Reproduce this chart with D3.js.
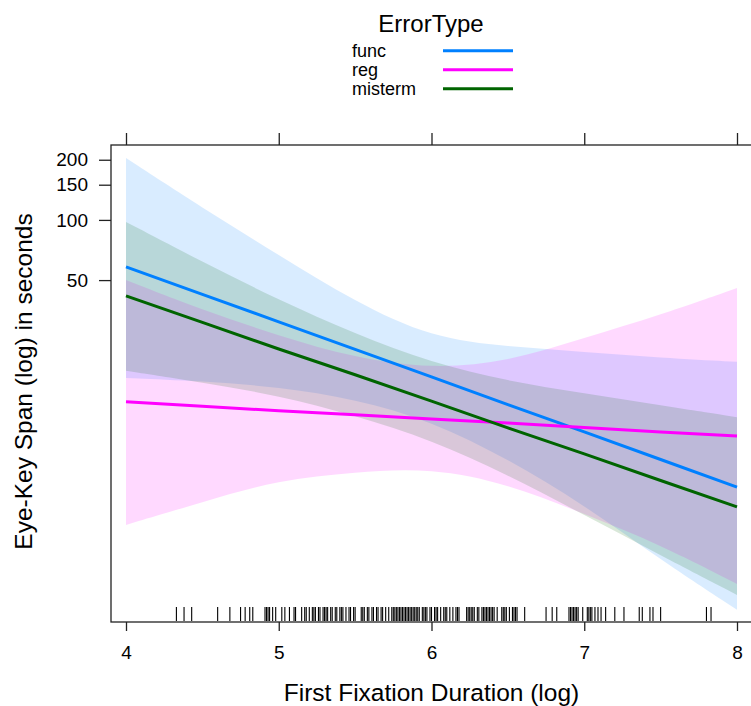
<!DOCTYPE html>
<html>
<head>
<meta charset="utf-8">
<script src="https://cdn.jsdelivr.net/npm/d3@7"></script>
<style>
  body { margin: 0; background: #fff; }
  svg text { font-family: "Liberation Sans", Arial, Helvetica, sans-serif; fill: #000; }
</style>
</head>
<body>
<div id="chart"></div>
<script>
// effect estimates (seconds) at each first-fixation value
const xGrid = [4, 4.5, 5, 5.5, 6, 6.5, 7, 7.5, 8];
const xTicks = [4, 5, 6, 7, 8];
const yTicks = [50, 100, 150, 200];

const funcFit = [58.2, 42.4, 30.9, 22.5, 16.4, 11.9, 8.70, 6.33, 4.61];
const funcLower = [16.2, 15.6, 14.6, 12.7, 9.87, 6.37, 3.75, 1.99, 1.12];
const funcUpper = [204, 114.8, 66.8, 38.9, 25.7, 23.2, 21.9, 20.4, 19.5];

const regFit = [12.3, 11.7, 11.1, 10.6, 10.1, 9.64, 9.16, 8.69, 8.30];
const regLower = [2.98, 3.88, 5.00, 5.48, 5.74, 4.78, 3.38, 2.37, 1.51];
const regUpper = [50.1, 35.5, 26.3, 20.4, 18.0, 19.5, 25.7, 33.5, 45.7];

const mistermFit = [41.7, 30.7, 22.6, 16.8, 12.4, 9.11, 6.75, 4.97, 3.67];
const mistermLower = [17.6, 15.4, 13.2, 10.5, 7.93, 5.30, 3.34, 2.10, 1.33];
const mistermUpper = [97.7, 61.6, 39.8, 26.9, 19.3, 15.6, 13.6, 11.8, 10.3];

const errorTypes = ["func", "reg", "misterm"];
const colors = ["#0080ff", "#ff00ff", "#006400"];

// rug of observed first fixation durations (log)
const rug = [4.33, 4.38, 4.43, 4.60, 4.68, 4.75, 4.78, 4.81, 4.83, 4.91, 4.92, 4.93, 4.94,
  4.96, 4.98, 5.02, 5.04, 5.07, 5.10, 5.11, 5.15, 5.17, 5.18, 5.20, 5.22, 5.23, 5.24, 5.26,
  5.27, 5.29, 5.30, 5.31, 5.32, 5.34, 5.35, 5.37, 5.38, 5.40, 5.41, 5.42, 5.44, 5.46, 5.47,
  5.49, 5.50, 5.54, 5.55, 5.56, 5.58, 5.59, 5.61, 5.62, 5.64, 5.65, 5.67, 5.68, 5.70, 5.72,
  5.74, 5.75, 5.76, 5.77, 5.78, 5.79, 5.80, 5.81, 5.82, 5.83, 5.84, 5.85, 5.86, 5.87, 5.88,
  5.89, 5.90, 5.91, 5.92, 5.94, 5.95, 5.96, 5.97, 5.99, 6.00, 6.02, 6.03, 6.04, 6.06, 6.08,
  6.09, 6.10, 6.12, 6.14, 6.16, 6.17, 6.18, 6.23, 6.24, 6.25, 6.26, 6.27, 6.28, 6.30, 6.31,
  6.33, 6.34, 6.35, 6.36, 6.37, 6.38, 6.39, 6.40, 6.41, 6.43, 6.46, 6.47, 6.48, 6.49, 6.51,
  6.53, 6.54, 6.55, 6.56, 6.61, 6.75, 6.79, 6.82, 6.90, 6.91, 6.92, 6.93, 6.94, 6.95, 6.96,
  6.99, 7.02, 7.03, 7.04, 7.05, 7.07, 7.09, 7.11, 7.14, 7.20, 7.26, 7.36, 7.38, 7.43, 7.45,
  7.50, 7.80, 7.83];

const W = 751, H = 706;
const svg = d3.select("#chart").append("svg").attr("width", W).attr("height", H);

const x = d3.scaleLinear().domain([4, 8]).range([126, 737]);
const y = d3.scaleLog().domain([0.974, 237]).range([622, 145]);

const pLeft = x(4) - 15, pRight = x(8) + 15, pTop = y.range()[1], pBottom = y.range()[0];

const series = [
  { fit: funcFit, lo: funcLower, hi: funcUpper },
  { fit: regFit, lo: regLower, hi: regUpper },
  { fit: mistermFit, lo: mistermLower, hi: mistermUpper }
];

const area = d3.area()
  .x((d, i) => x(xGrid[i]))
  .y0(d => y(d[0]))
  .y1(d => y(d[1]))
  .curve(d3.curveBasis);

const line = d3.line()
  .x((d, i) => x(xGrid[i]))
  .y(d => y(d));

svg.append("clipPath").attr("id", "panel")
  .append("rect").attr("x", pLeft).attr("y", pTop)
  .attr("width", pRight - pLeft).attr("height", pBottom - pTop);

const panel = svg.append("g").attr("clip-path", "url(#panel)");

series.forEach((s, k) => {
  panel.append("path")
    .datum(s.lo.map((v, i) => [v, s.hi[i]]))
    .attr("d", area)
    .attr("fill", colors[k])
    .attr("fill-opacity", 0.15);
});

series.forEach((s, k) => {
  panel.append("path")
    .datum(s.fit)
    .attr("d", line)
    .attr("fill", "none")
    .attr("stroke", colors[k])
    .attr("stroke-width", 3);
});

panel.append("g").selectAll("line")
  .data(rug).join("line")
  .attr("x1", d => x(d)).attr("x2", d => x(d))
  .attr("y1", pBottom - 15).attr("y2", pBottom - 1)
  .attr("stroke", "#000").attr("stroke-width", 1.1);

// frame
svg.append("rect")
  .attr("x", pLeft).attr("y", pTop)
  .attr("width", pRight - pLeft).attr("height", pBottom - pTop)
  .attr("fill", "none").attr("stroke", "#222").attr("stroke-width", 1.3);

// axes
const ax = svg.append("g").attr("transform", `translate(0,${pBottom})`)
  .call(d3.axisBottom(x).tickValues(xTicks).tickSize(9).tickPadding(15).tickFormat(d3.format("d")));
const axTop = svg.append("g").attr("transform", `translate(0,${pTop})`)
  .call(d3.axisTop(x).tickValues(xTicks).tickSize(12).tickFormat(""));
const ay = svg.append("g").attr("transform", `translate(${pLeft},0)`)
  .call(d3.axisLeft(y).tickValues(yTicks).tickSize(12).tickPadding(11).tickFormat(d3.format("d")));

[ax, axTop, ay].forEach(g => {
  g.select(".domain").remove();
  g.selectAll(".tick line").attr("stroke", "#222").attr("stroke-width", 1.3);
  g.selectAll(".tick text").style("font-size", "19px").style("font-family", "'Liberation Sans', Arial, sans-serif");
});

// axis titles
svg.append("text")
  .attr("x", (x(4) + x(8)) / 2).attr("y", 701)
  .attr("text-anchor", "middle").style("font-size", "24.5px")
  .text("First Fixation Duration (log)");

svg.append("text")
  .attr("transform", `translate(32,${(pTop + pBottom) / 2 - 2}) rotate(-90)`)
  .attr("text-anchor", "middle").style("font-size", "24.5px")
  .text("Eye-Key Span (log) in seconds");

// legend
const legend = svg.append("g");
legend.append("text")
  .attr("x", 431).attr("y", 32)
  .attr("text-anchor", "middle").style("font-size", "24px")
  .text("ErrorType");

errorTypes.forEach((name, i) => {
  const cy = 50.7 + i * 19;
  legend.append("text")
    .attr("x", 352).attr("y", cy + 6)
    .style("font-size", "18px")
    .text(name);
  legend.append("line")
    .attr("x1", 443).attr("x2", 513)
    .attr("y1", cy).attr("y2", cy)
    .attr("stroke", colors[i]).attr("stroke-width", 3);
});
</script>
</body>
</html>
